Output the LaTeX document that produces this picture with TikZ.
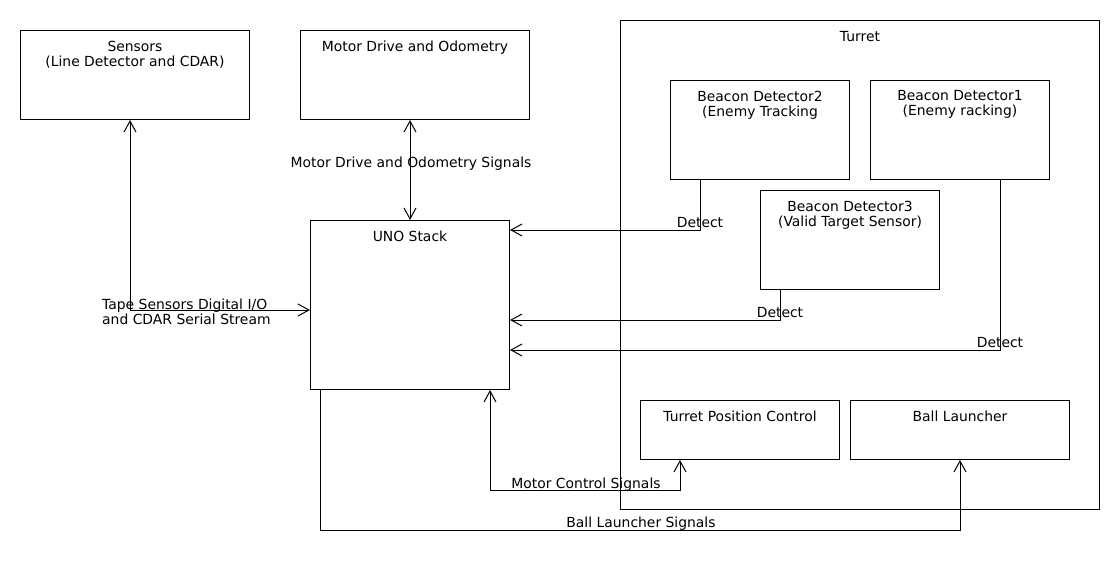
\documentclass[tikz,border=0pt]{standalone}
\usepackage{fontspec}
\setmainfont{DejaVu Sans}
\usetikzlibrary{arrows.meta}
\begin{document}
\begin{tikzpicture}[x=1pt,y=-1pt,
  every node/.style={font=\fontsize{13.9}{15}\selectfont},
  box/.style={draw, line width=1pt, rectangle, inner sep=0pt, anchor=north west},
  ttl/.style={anchor=north, align=center, inner sep=0pt, execute at begin node=\strut},
  lbl/.style={anchor=base, inner sep=0pt},
  conn/.style={line width=1pt},
  >={Straight Barb[length=11pt,width=12pt,line width=1pt]}]
\fill[white] (0,0) rectangle (1120,570);
\useasboundingbox (0,0) rectangle (1120,570);

% boxes
\node[box, minimum width=229pt, minimum height=89pt] (sensors) at (20,30) {};
\node[box, minimum width=229pt, minimum height=89pt] (motor) at (300,30) {};
\node[box, minimum width=479pt, minimum height=489pt] (turret) at (620,20) {};
\node[box, minimum width=179pt, minimum height=99pt] (b2) at (670,80) {};
\node[box, minimum width=179pt, minimum height=99pt] (b1) at (870,80) {};
\node[box, minimum width=179pt, minimum height=99pt] (b3) at (760,190) {};
\node[box, minimum width=199pt, minimum height=169pt] (uno) at (310,220) {};
\node[box, minimum width=199pt, minimum height=59pt] (tpc) at (640,400) {};
\node[box, minimum width=219pt, minimum height=59pt] (bl) at (850,400) {};

% titles
\node[ttl] (sensorsT) at ([yshift=-10.5pt]sensors.north) {Sensors\\(Line Detector and CDAR)};
\node[ttl] (motorT) at ([yshift=-10.5pt]motor.north) {Motor Drive and Odometry};
\node[ttl] (turretT) at ([yshift=-10.5pt]turret.north) {Turret};
\node[ttl] (b2T) at ([yshift=-10.5pt]b2.north) {Beacon Detector2\\(Enemy Tracking};
\node[ttl] (b1T) at ([yshift=-10.5pt]b1.north) {Beacon Detector1\\(Enemy racking)};
\node[ttl] (b3T) at ([yshift=-10.5pt]b3.north) {Beacon Detector3\\(Valid Target Sensor)};
\node[ttl] (unoT) at ([yshift=-10.5pt]uno.north) {UNO Stack};
\node[ttl] (tpcT) at ([yshift=-10.5pt]tpc.north) {Turret Position Control};
\node[ttl] (blT) at ([yshift=-10.5pt]bl.north) {Ball Launcher};

% bend points
\coordinate (tapeC) at (130,310);
\coordinate (b2C) at (700,230);
\coordinate (b3C) at (780,320);
\coordinate (b1C) at (1000,350);
\coordinate (mcA) at (680,490);
\coordinate (mcB) at (490,490);
\coordinate (blA) at (320,530);
\coordinate (blB) at (960,530);

% connectors
\draw[conn,<->] (sensors.south -| tapeC) -- (tapeC) -- (uno.west |- tapeC);
\draw[conn,<->] (motor.south -| 410,0) -- (uno.north -| 410,0);
\draw[conn,->] (b2.south -| b2C) -- (b2C) -- (uno.east |- b2C);
\draw[conn,->] (b3.south -| b3C) -- (b3C) -- (uno.east |- b3C);
\draw[conn,->] (b1.south -| b1C) -- (b1C) -- (uno.east |- b1C);
\draw[conn,<->] (tpc.south -| mcA) -- (mcA) -- (mcB) -- (uno.south -| mcB);
\draw[conn,->] (uno.south -| blA) -- (blA) -- (blB) -- (bl.south -| blB);

% labels
\node[anchor=north west, align=left, inner sep=0pt, execute at begin node=\strut] (tapeL) at (102,298.5) {Tape Sensors Digital I/O\\and CDAR Serial Stream};
\node[lbl] (motorL) at (411,167) {Motor Drive and Odometry Signals};
\node[lbl] (b2L) at (700,227) {Detect};
\node[lbl] (b3L) at (780,317) {Detect};
\node[lbl] (b1L) at (1000,347) {Detect};
\node[lbl] (mcL) at (586,488) {Motor Control Signals};
\node[lbl] (blL) at (641,527) {Ball Launcher Signals};
\end{tikzpicture}
\end{document}
